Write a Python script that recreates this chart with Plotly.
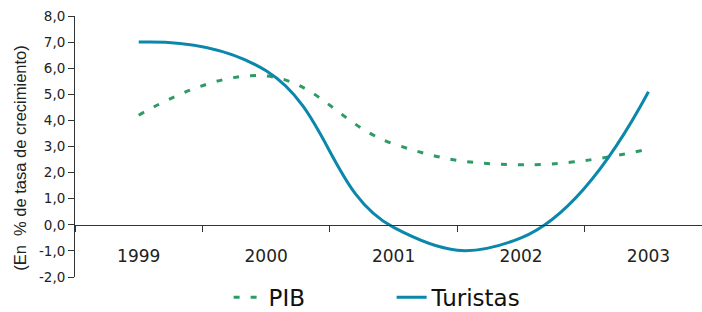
import plotly.graph_objects as go

years = ["1999", "2000", "2001", "2002", "2003"]
pib = [4.2, 5.7, 3.1, 2.3, 2.9]
turistas = [7.0, 5.9, -0.1, -0.5, 5.1]
y_tickvals = [-2, -1, 0, 1, 2, 3, 4, 5, 6, 7, 8]
y_ticktext = ["-2,0", "-1,0", "0,0", "1,0", "2,0", "3,0", "4,0", "5,0", "6,0", "7,0", "8,0"]
y_title = "(En  % de tasa de crecimiento)"

FONT = "DejaVu Sans"

fig = go.Figure()
fig.add_trace(go.Scatter(
    x=years, y=pib, name="PIB", mode="lines",
    line=dict(color="#2E9B67", width=3, dash="6px,11px", shape="spline", smoothing=1.2),
))
fig.add_trace(go.Scatter(
    x=years, y=turistas, name="Turistas", mode="lines",
    line=dict(color="#0A87AA", width=3, shape="spline", smoothing=1.3),
))

fig.update_layout(
    width=702, height=312,
    margin=dict(l=75, r=0, t=16, b=35, autoexpand=False),
    paper_bgcolor="white", plot_bgcolor="white",
    font=dict(family=FONT, color="#222222"),
    showlegend=True,
    legend=dict(
        orientation="h", x=0.245, xanchor="left", y=-0.16, yanchor="bottom",
        font=dict(size=23, family=FONT, color="#111111"),
        entrywidth=118, bgcolor="rgba(0,0,0,0)", borderwidth=0,
    ),
    xaxis=dict(
        type="category", range=[-0.5, 4.42],
        anchor="free", position=0.2,
        showline=True, linecolor="#333333", linewidth=1,
        ticks="outside", ticklen=6, tickcolor="#333333", tickson="boundaries",
        showgrid=False, zeroline=False,
        tickfont=dict(size=17, family=FONT, color="#222222"),
        ticklabelstandoff=16,
    ),
    yaxis=dict(
        range=[-2, 8], tickvals=y_tickvals, ticktext=y_ticktext,
        showline=True, linecolor="#333333", linewidth=1,
        ticks="outside", ticklen=6, tickcolor="#333333",
        showgrid=False, zeroline=False,
        tickfont=dict(size=13.5, family=FONT, color="#222222"),
    ),
)

fig.add_annotation(
    text=y_title, xref="paper", yref="paper",
    x=-0.088, y=0.456, xanchor="center", yanchor="middle",
    textangle=-90, showarrow=False,
    font=dict(size=16.5, family="Liberation Sans", color="#222222"),
)

fig.write_html("out.html", post_script="document.body.style.margin='0px';",
               config={"displayModeBar": False})
